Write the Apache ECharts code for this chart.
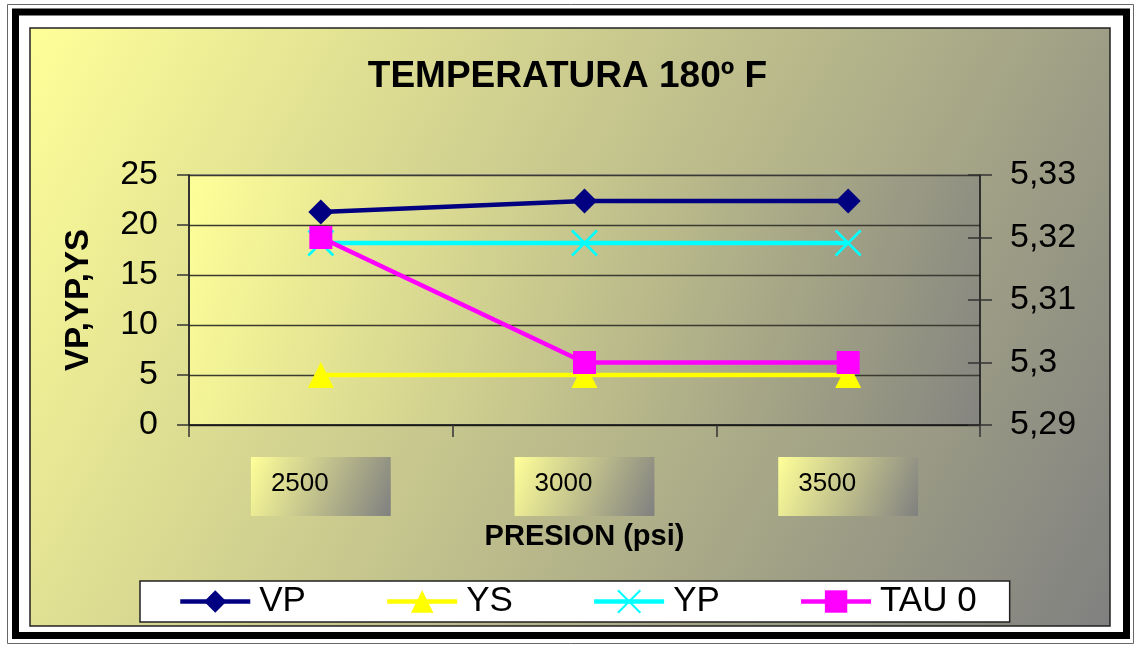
<!DOCTYPE html>
<html>
<head>
<meta charset="utf-8">
<script src="https://cdn.jsdelivr.net/npm/echarts@6/dist/echarts.min.js"></script>
<style>
html, body { margin: 0; padding: 0; background: #fff; }
#echarts-temperatura { width: 1135px; height: 646px; }
</style>
</head>
<body>
<div id="echarts-temperatura"></div>
<script>
//----------------------Data----------------------
let presion_categories = ['2500', '3000', '3500'];
let vp_values = [21.3, 22.4, 22.4];
let ys_values = [5, 5, 5];
let yp_values = [18.2, 18.2, 18.2];
let tau_values = [5.32, 5.30, 5.30];
let left_axis_ticks = [0, 25, 5];       // min, max, interval
let right_axis_ticks = [5.29, 5.33, 0.01];
let series_names = ['VP', 'YS', 'YP', 'TAU 0'];

// Get dom in html
let temp_chart_dom = document.getElementById("echarts-temperatura");
let temp_chart = echarts.init(temp_chart_dom);

let font_family = "'Liberation Sans', Arial, sans-serif";
let yellow_gray = function (endColor) {
    return new echarts.graphic.LinearGradient(0, 0, 1, 1, [
        {offset: 0, color: '#ffff99'},
        {offset: 1, color: endColor}
    ]);
};
let comma_format = function (v) {
    return String(+v.toFixed(2)).replace('.', ',');
};
//----------------------Grid----------------------
let temp_chart_grid = {
    left: 189,
    right: 155,
    top: 175,
    bottom: 221,
    show: true,
    backgroundColor: yellow_gray('#858580'),
    borderColor: '#8a8a8a',
    borderWidth: 1.5
};
//----------------------Axis----------------------
let temp_chart_xAxis = {
    type: 'category',
    data: presion_categories,
    boundaryGap: true,
    name: 'PRESION (psi)',
    nameLocation: 'middle',
    nameGap: 97,
    nameTextStyle: {fontSize: 29, fontWeight: 'bold', color: '#000', fontFamily: font_family},
    axisLine: {lineStyle: {color: '#111', width: 1.5}},
    axisTick: {show: true, length: 12, lineStyle: {color: '#333', width: 1.5}},
    axisLabel: {
        margin: 32,
        fontSize: 26,
        color: '#000',
        fontFamily: font_family,
        padding: [14, 62, 19, 20],
        backgroundColor: yellow_gray('#808080')
    },
    splitLine: {show: false}
};
let temp_chart_yAxis = [
    {
        type: 'value',
        position: 'left',
        min: left_axis_ticks[0],
        max: left_axis_ticks[1],
        interval: left_axis_ticks[2],
        name: 'VP,YP,YS',
        nameLocation: 'middle',
        nameGap: 94,
        nameTextStyle: {fontSize: 33, fontWeight: 'bold', color: '#000', fontFamily: font_family},
        axisLine: {show: true, lineStyle: {color: '#111', width: 1.5}},
        axisTick: {show: true, length: 12, lineStyle: {color: '#333', width: 1.5}},
        axisLabel: {margin: 31, fontSize: 34, color: '#000', fontFamily: font_family},
        splitLine: {show: true, lineStyle: {color: '#3a3a30', width: 1.3}}
    },
    {
        type: 'value',
        position: 'right',
        min: right_axis_ticks[0],
        max: right_axis_ticks[1],
        interval: right_axis_ticks[2],
        axisLine: {show: true, lineStyle: {color: '#111', width: 1.5}},
        axisTick: {show: true, length: 12, lineStyle: {color: '#333', width: 1.5}},
        axisLabel: {margin: 30, fontSize: 34, color: '#000', fontFamily: font_family, formatter: comma_format},
        splitLine: {show: false}
    },
    {
        // inner half of the crossing ticks on the right axis
        type: 'value',
        position: 'right',
        min: right_axis_ticks[0],
        max: right_axis_ticks[1],
        interval: right_axis_ticks[2],
        axisLine: {show: false},
        axisTick: {show: true, inside: true, length: 12, lineStyle: {color: '#333', width: 1.5}},
        axisLabel: {show: false},
        splitLine: {show: false}
    }
];
//---------------------Series---------------------
let cross_symbol = 'path://M0,0L10,10M10,0L0,10';
let temp_chart_series = [
    {
        name: series_names[0], type: 'line', yAxisIndex: 0, data: vp_values,
        symbol: 'diamond', symbolSize: 25,
        lineStyle: {color: '#000080', width: 4.5},
        itemStyle: {color: '#000080'}
    },
    {
        name: series_names[1], type: 'line', yAxisIndex: 0, data: ys_values,
        symbol: 'triangle', symbolSize: 26,
        lineStyle: {color: '#ffff00', width: 4.5},
        itemStyle: {color: '#ffff00'}
    },
    {
        name: series_names[2], type: 'line', yAxisIndex: 0, data: yp_values,
        symbol: cross_symbol, symbolSize: 25,
        lineStyle: {color: '#00ffff', width: 4.5},
        itemStyle: {color: '#00ffff', borderColor: '#00ffff', borderWidth: 2.5}
    },
    {
        name: series_names[3], type: 'line', yAxisIndex: 1, data: tau_values,
        symbol: 'rect', symbolSize: 23,
        lineStyle: {color: '#ff00ff', width: 4.5},
        itemStyle: {color: '#ff00ff'}
    }
];
//--------------------Frame-----------------------
let temp_chart_graphic = [
    {type: 'rect', z: -10, silent: true,
     shape: {x: 7.5, y: 4.5, width: 1126, height: 639},
     style: {fill: 'none', stroke: '#666', lineWidth: 1}},
    {type: 'rect', z: -10, silent: true,
     shape: {x: 15.5, y: 12, width: 1111, height: 623.5},
     style: {fill: 'none', stroke: '#000', lineWidth: 7}},
    {type: 'rect', z: -10, silent: true,
     shape: {x: 30, y: 28, width: 1080, height: 598},
     style: {fill: yellow_gray('#808080'), stroke: '#222', lineWidth: 1.5}}
];
//------------------Generate Graph------------------
let temp_chart_option = {
    animation: false,
    backgroundColor: '#fff',
    title: {
        text: 'TEMPERATURA 180º F',
        left: 'center',
        top: 53,
        textStyle: {fontSize: 37, fontWeight: 'bold', color: '#000', fontFamily: font_family}
    },
    legend: {
        data: series_names,
        left: 140,
        top: 581,
        padding: [3, 33, 3, 38],
        backgroundColor: '#fff',
        borderColor: '#222',
        borderWidth: 1.5,
        itemWidth: 70,
        itemHeight: 28,
        itemGap: 79,
        lineStyle: {width: 4.5},
        textStyle: {fontSize: 35, color: '#000', fontFamily: font_family, padding: [0, 0, 0, 4]}
    },
    graphic: temp_chart_graphic,
    grid: temp_chart_grid,
    xAxis: temp_chart_xAxis,
    yAxis: temp_chart_yAxis,
    series: temp_chart_series,
    tooltip: {show: false}
};
if (temp_chart_option && typeof temp_chart_option === "object") {
    temp_chart.setOption(temp_chart_option, true);
}
</script>
</body>
</html>
